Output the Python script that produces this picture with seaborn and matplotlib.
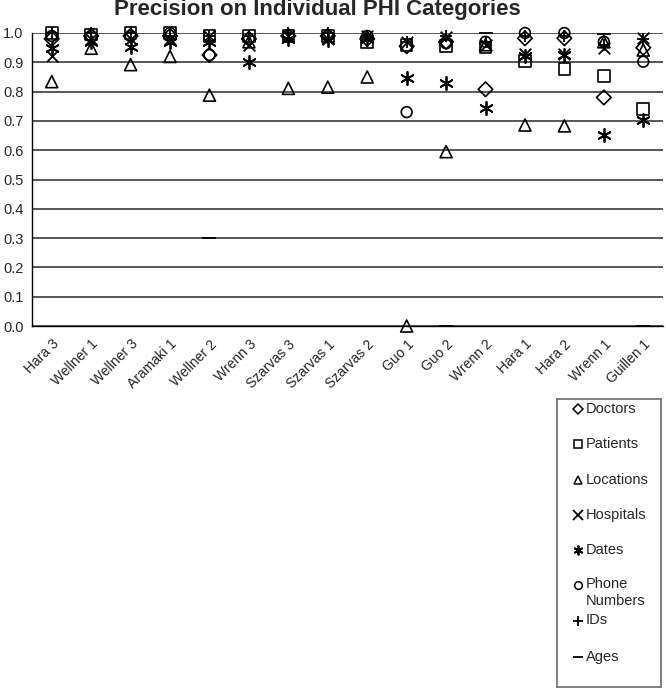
import numpy as np
import pandas as pd
import matplotlib.pyplot as plt
import seaborn as sns

categories = ["Hara 3", "Wellner 1", "Wellner 3", "Aramaki 1", "Wellner 2", "Wrenn 3",
              "Szarvas 3", "Szarvas 1", "Szarvas 2", "Guo 1", "Guo 2", "Wrenn 2",
              "Hara 1", "Hara 2", "Wrenn 1", "Guillen 1"]

nan = np.nan
doctors = [0.98, 0.99, 0.99, 0.99, 0.925, 0.98, 0.99, 0.99, 0.98, 0.955, 0.97, 0.808, 0.982, 0.982, 0.78, 0.95]
patients = [1.0, 0.995, 1.0, 1.0, 0.99, 0.99, 0.99, 0.99, 0.97, 0.96, 0.955, 0.95, 0.905, 0.878, 0.853, 0.74]
locations = [0.834, 0.948, 0.892, 0.92, 0.788, 0.97, 0.811, 0.815, 0.85, 0.0, 0.595, 0.96, 0.686, 0.683, 0.97, 0.942]
hospitals = [0.92, 0.98, 0.98, 0.98, 0.99, 0.96, 0.99, 0.98, 0.99, 0.97, 0.985, 0.96, 0.93, 0.93, 0.95, 0.982]
dates = [0.95, 0.97, 0.953, 0.97, 0.97, 0.902, 0.98, 0.975, 0.98, 0.845, 0.83, 0.745, 0.92, 0.925, 0.652, 0.703]
phone = [0.99, 0.99, 0.99, 1.0, 0.925, 0.98, 0.99, 0.99, 0.99, 0.73, 0.965, 0.97, 1.0, 1.0, 0.97, 0.902]
ids = [1.0, 1.0, 1.0, 0.99, 0.99, 0.99, 1.0, 1.0, 0.99, 0.97, 0.99, 0.97, 0.99, 0.99, 0.96, 0.98]
ages = [nan, nan, nan, nan, 0.30, nan, nan, nan, nan, nan, 0.0, 1.0, nan, nan, 0.997, 0.0]

series_names = ["Doctors", "Patients", "Locations", "Hospitals", "Dates", "Phone\nNumbers", "IDs", "Ages"]
series_values = [doctors, patients, locations, hospitals, dates, phone, ids, ages]
series_markers = ["D", "s", "^", "x", (6, 2, 0), "o", "+", "_"]
series_sizes = [55, 70, 75, 70, 90, 60, 80, 90]

sns.set_style("white")
plt.rcParams["font.family"] = ["Liberation Sans", "DejaVu Sans"]

fig = plt.figure(figsize=(6.66, 6.9), dpi=100)
ax = fig.add_axes([32 / 666, 1 - 326 / 690, 631 / 666, 293 / 690])

for name, vals, mk, sz in zip(series_names, series_values, series_markers, series_sizes):
    df = pd.DataFrame({"run": categories, "precision": vals}).dropna()
    m = plt.matplotlib.markers.MarkerStyle(mk)
    if m.is_filled():
        kw = dict(facecolor="none", edgecolor="black", linewidth=1.2)
    else:
        kw = dict(color="black", linewidth=1.3)
    sns.scatterplot(data=df, x="run", y="precision", marker=mk, s=sz,
                    ax=ax, clip_on=False, zorder=3, **kw)

ax.set_xlim(-0.5, len(categories) - 0.5)
ax.set_ylim(0, 1.0)
ax.set_yticks(np.arange(0, 1.01, 0.1))
ax.set_yticklabels([f"{v:.1f}" for v in np.arange(0, 1.01, 0.1)], fontsize=10.5)
ax.yaxis.grid(True, color="#4a4a4a", linewidth=1.3)
ax.set_axisbelow(True)
ax.set_xticks(range(len(categories)))
ax.set_xticklabels(categories, rotation=45, ha="right", rotation_mode="anchor", fontsize=10)
ax.set_xticks(np.arange(-0.5, len(categories), 1), minor=True)
ax.tick_params(axis="x", which="major", length=0, pad=8)
ax.tick_params(axis="x", which="minor", length=5, width=1, color="black", direction="out")
ax.tick_params(axis="y", length=4, width=1, color="black", direction="out", pad=2)
ax.set_xlabel("")
ax.set_ylabel("")
for s in ["top", "right"]:
    ax.spines[s].set_visible(False)
for s in ["left", "bottom"]:
    ax.spines[s].set_color("black")
    ax.spines[s].set_linewidth(1.0)

fig.text(317 / 666, 1 - 9 / 690, "Precision on Individual PHI Categories",
         ha="center", va="center", fontsize=16, fontweight="bold")

# legend drawn by hand to keep Excel-like spacing
lax = fig.add_axes([557 / 666, 1 - 687 / 690, 104 / 666, 288 / 690])
lax.set_xlim(0, 104)
lax.set_ylim(288, 0)
lax.set_xticks([])
lax.set_yticks([])
for s in lax.spines.values():
    s.set_color("#777777")
    s.set_linewidth(1.3)
rows = [10, 45, 81, 116, 151, 186, 222, 258]
for name, mk, y in zip(series_names, series_markers, rows):
    m = plt.matplotlib.markers.MarkerStyle(mk)
    if m.is_filled():
        lax.plot(21, y, marker=mk, markersize=5.5, mfc="none", mec="black", mew=1.1)
    else:
        lax.plot(21, y, marker=mk, markersize=7, color="black", mew=1.3)
    lax.text(29, y - 7.5, name, ha="left", va="top", fontsize=10.5, linespacing=1.2)

fig.savefig("out.png", dpi=100)
